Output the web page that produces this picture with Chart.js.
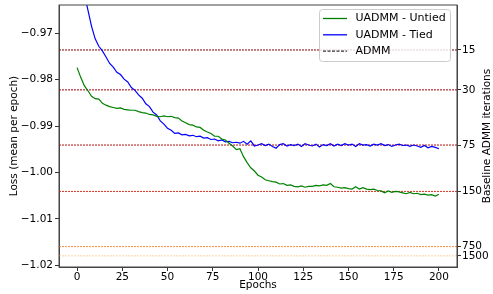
<!DOCTYPE html>
<html>
<head>
<meta charset="utf-8">
<script src="https://cdn.jsdelivr.net/npm/chart.js@4.4.1/dist/chart.umd.min.js"></script>
<style>
  html, body { margin: 0; padding: 0; background: #fff; }
  #wrap { width: 493px; height: 294px; }
</style>
</head>
<body>
<div id="wrap"><canvas id="lossChart"></canvas></div>
<script>
// epochs sampled every 2
const epochs = [
  0, 2, 4, 6, 8, 10, 12, 14, 16, 18, 20, 22, 24, 26, 28, 30, 32, 34, 36, 38,
  40, 42, 44, 46, 48, 50, 52, 54, 56, 58, 60, 62, 64, 66, 68, 70, 72, 74, 76, 78,
  80, 82, 84, 86, 88, 90, 92, 94, 96, 98, 100, 102, 104, 106, 108, 110, 112, 114, 116, 118,
  120, 122, 124, 126, 128, 130, 132, 134, 136, 138, 140, 142, 144, 146, 148, 150, 152, 154, 156, 158,
  160, 162, 164, 166, 168, 170, 172, 174, 176, 178, 180, 182, 184, 186, 188, 190, 192, 194, 196, 198, 200
];

const untied = [
  -0.9774, -0.9795, -0.9813, -0.9824, -0.9836, -0.9841, -0.9842, -0.9851, -0.9855, -0.9858,
  -0.9860, -0.9862, -0.9861, -0.9864, -0.9865, -0.9866, -0.9866, -0.9869, -0.9871, -0.9872,
  -0.9875, -0.9876, -0.9879, -0.9880, -0.9878, -0.9880, -0.9879, -0.9882, -0.9883, -0.9889,
  -0.9893, -0.9897, -0.9898, -0.9902, -0.9903, -0.9909, -0.9913, -0.9916, -0.9922, -0.9922,
  -0.9928, -0.9930, -0.9937, -0.9943, -0.9951, -0.9949, -0.9966, -0.9979, -0.9990, -0.9997,
  -1.0006, -1.0010, -1.0016, -1.0018, -1.0020, -1.0021, -1.0025, -1.0024, -1.0028, -1.0027,
  -1.0030, -1.0031, -1.0029, -1.0032, -1.0030, -1.0030, -1.0028, -1.0029, -1.0027, -1.0028,
  -1.0024, -1.0031, -1.0032, -1.0034, -1.0033, -1.0035, -1.0036, -1.0031, -1.0036, -1.0033,
  -1.0036, -1.0037, -1.0036, -1.0039, -1.0040, -1.0044, -1.0040, -1.0043, -1.0041, -1.0042,
  -1.0044, -1.0046, -1.0043, -1.0046, -1.0045, -1.0048, -1.0047, -1.0049, -1.0048, -1.0051, -1.0047
];

const tied = [
  -0.9520, -0.9570, -0.9615, -0.9650, -0.9685, -0.9712, -0.9728, -0.9738, -0.9751, -0.9765,
  -0.9773, -0.9784, -0.9789, -0.9799, -0.9805, -0.9817, -0.9823, -0.9833, -0.9840, -0.9852,
  -0.9858, -0.9870, -0.9876, -0.9889, -0.9896, -0.9905, -0.9909, -0.9916, -0.9915, -0.9919,
  -0.9918, -0.9921, -0.9920, -0.9923, -0.9922, -0.9926, -0.9925, -0.9929, -0.9928, -0.9932,
  -0.9930, -0.9934, -0.9933, -0.9936, -0.9935, -0.9937, -0.9933, -0.9939, -0.9932, -0.9943,
  -0.9941, -0.9938, -0.9942, -0.9939, -0.9944, -0.9948, -0.9940, -0.9938, -0.9943, -0.9940,
  -0.9942, -0.9939, -0.9944, -0.9938, -0.9941, -0.9943, -0.9939, -0.9945, -0.9940, -0.9942,
  -0.9938, -0.9943, -0.9939, -0.9942, -0.9938, -0.9941, -0.9939, -0.9944, -0.9938, -0.9941,
  -0.9940, -0.9943, -0.9939, -0.9941, -0.9938, -0.9942, -0.9940, -0.9944, -0.9941, -0.9939,
  -0.9942, -0.9941, -0.9944, -0.9941, -0.9943, -0.9946, -0.9942, -0.9947, -0.9944, -0.9946, -0.9949
];

// baseline ADMM: final loss per number of iterations
const admmIters = ['15', '30', '75', '150', '750', '1500'];
const admmLoss = [-0.9736, -0.9822, -0.9941, -1.0041, -1.0160, -1.0180];
const admmColors = ['#7f0000', '#a3000a', '#b40f0f', '#d7301f', '#fc8d3c', '#fdd3a0'];

const xTicks = [0, 25, 50, 75, 100, 125, 150, 175, 200];
const yTicks = [-1.02, -1.01, -1.00, -0.99, -0.98, -0.97];

const X_MIN = -10, X_MAX = 210;
const Y_MIN = -1.0204, Y_MAX = -0.9639;

Chart.defaults.font.family = 'DejaVu Sans';
Chart.defaults.font.size = 10.5;
Chart.defaults.color = '#000';

const toPoints = (ys) => epochs.map((e, i) => ({ x: e, y: ys[i] }));

const admmSets = admmLoss.map((v, i) => ({
  label: 'ADMM ' + admmIters[i],
  data: [{ x: X_MIN, y: v }, { x: X_MAX, y: v }],
  borderColor: admmColors[i],
  borderWidth: 1,
  borderDash: [2, 1],
  pointRadius: 0,
}));

const legendItems = [
  { text: 'UADMM - Untied', color: '#008000', dash: [] },
  { text: 'UADMM - Tied', color: '#0000ff', dash: [] },
  { text: 'ADMM', color: '#333', dash: [3, 1.5] },
];

// no extra room for half tick labels, plot box is set by layout
const noPad = (s) => {
  s.paddingTop = 0;
  s.paddingBottom = 0;
  s.paddingLeft = 0;
  s.paddingRight = 0;
};

// matplotlib-like frame, legend box and right axis title
const decorations = {
  id: 'decorations',
  afterDraw(chart) {
    const { ctx, chartArea: a } = chart;
    ctx.save();
    ctx.strokeStyle = '#444';
    ctx.lineWidth = 1;
    ctx.strokeRect(a.left, a.top, a.right - a.left, a.bottom - a.top);

    // legend
    const bx = 319.5, by = 9.5, bw = 131, bh = 52;
    ctx.fillStyle = 'rgba(255,255,255,0.8)';
    ctx.strokeStyle = '#cccccc';
    ctx.beginPath();
    ctx.roundRect(bx, by, bw, bh, 3);
    ctx.fill();
    ctx.stroke();
    ctx.font = '11px "DejaVu Sans"';
    ctx.textBaseline = 'middle';
    legendItems.forEach((it, i) => {
      const y = 18.5 + i * 16.3;
      ctx.strokeStyle = it.color;
      ctx.lineWidth = 1.3;
      ctx.setLineDash(it.dash);
      ctx.beginPath();
      ctx.moveTo(323, y);
      ctx.lineTo(347, y);
      ctx.stroke();
      ctx.setLineDash([]);
      ctx.fillStyle = '#000';
      ctx.fillText(it.text, 355.5, y);
    });

    // right axis title
    ctx.font = '10.5px "DejaVu Sans"';
    ctx.translate(487.5, (a.top + a.bottom) / 2);
    ctx.rotate(-Math.PI / 2);
    ctx.textAlign = 'center';
    ctx.fillText('Baseline ADMM iterations', 0, 0);
    ctx.restore();
  },
};

const config = {
  type: 'line',
  data: {
    datasets: [
      {
        label: 'UADMM - Untied',
        data: toPoints(untied),
        borderColor: '#008000',
        borderWidth: 1.2,
        pointRadius: 0,
      },
      {
        label: 'UADMM - Tied',
        data: toPoints(tied),
        borderColor: '#0000ff',
        borderWidth: 1.2,
        pointRadius: 0,
      },
      ...admmSets,
    ],
  },
  options: {
    responsive: true,
    maintainAspectRatio: false,
    animation: false,
    layout: { padding: { top: 5, left: 0, right: 0, bottom: 0 } },
    plugins: {
      legend: { display: false },
      tooltip: { enabled: false },
    },
    scales: {
      x: {
        type: 'linear',
        min: X_MIN,
        max: X_MAX,
        afterBuildTicks: (s) => { s.ticks = xTicks.map((v) => ({ value: v })); },
        afterFit: (s) => { s.height = 27; noPad(s); },
        ticks: { padding: 0, maxRotation: 0, autoSkip: false },
        grid: { drawOnChartArea: false, tickLength: 4, color: '#333' },
        border: { color: '#444' },
        title: { display: true, text: 'Epochs', padding: { top: 0, bottom: 2 } },
      },
      y: {
        position: 'left',
        min: Y_MIN,
        max: Y_MAX,
        afterBuildTicks: (s) => { s.ticks = yTicks.map((v) => ({ value: v })); },
        afterFit: (s) => { s.width = 59; noPad(s); },
        ticks: {
          padding: 2,
          autoSkip: false,
          callback: (v) => (v < 0 ? '\u2212' : '') + Math.abs(v).toFixed(2),
        },
        grid: { drawOnChartArea: false, tickLength: 4, color: '#333' },
        border: { color: '#444' },
        title: { display: true, text: 'Loss (mean per epoch)', padding: { top: 8, bottom: 0 } },
      },
      y2: {
        position: 'right',
        min: Y_MIN,
        max: Y_MAX,
        afterBuildTicks: (s) => { s.ticks = admmLoss.map((v) => ({ value: v })); },
        afterFit: (s) => { s.width = 36; noPad(s); },
        ticks: {
          padding: 1,
          autoSkip: false,
          callback: (v, i) => admmIters[i],
        },
        grid: { drawOnChartArea: false, tickLength: 4, color: '#333' },
        border: { color: '#444' },
      },
    },
  },
  plugins: [decorations],
};

new Chart(document.getElementById('lossChart'), config);
</script>
</body>
</html>
